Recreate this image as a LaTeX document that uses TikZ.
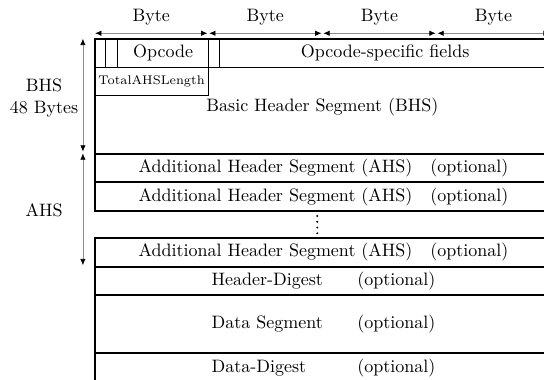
\documentclass[tikz,border=0pt]{standalone}
\usepackage{tikz}
\usetikzlibrary{arrows.meta, positioning, calc}

\begin{document}
\begin{tikzpicture}[
    seg/.style={rectangle, draw, very thick, minimum width=8.92cm, minimum height=0.56cm, inner sep=0pt, anchor=north west},
    cell/.style={rectangle, draw, thin, minimum height=0.56cm, inner sep=0pt, anchor=north west},
    span/.style={{Latex[black, length=3.5pt, width=3pt]}-{Latex[black, length=3.5pt, width=3pt]}, draw=black!45, shorten <=0.5pt, shorten >=0.5pt}
]
\useasboundingbox (0,0) rectangle (10.63,-7.41);
\clip (0,0) rectangle (10.63,-7.41);

% byte ruler
\coordinate (b0) at (1.84,-0.65);
\coordinate (b1) at (4.07,-0.65);
\coordinate (b2) at (6.30,-0.65);
\coordinate (b3) at (8.53,-0.65);
\coordinate (b4) at (10.76,-0.65);
\node (byteA) at (2.955,-0.33) {Byte};
\node (byteB) at (5.185,-0.33) {Byte};
\node (byteC) at (7.415,-0.33) {Byte};
\node (byteD) at (9.645,-0.33) {Byte};
\draw[span] (b0) -- (b1);
\draw[span] (b1) -- (b2);
\draw[span] (b2) -- (b3);
\draw[span] (b3) -- (b4);

% basic header segment
\node[seg, minimum height=2.24cm] (bhs) at (1.84,-0.74) {};
\node (bhstext) at (6.30,-2.09) {Basic Header Segment (BHS)};
\node[cell, minimum width=0.21cm] (flagA) at (1.84,-0.74) {};
\node[cell, minimum width=0.24cm] (flagB) at (2.05,-0.74) {};
\node[cell, minimum width=1.78cm] (opcode) at (2.29,-0.74) {Opcode};
\node[cell, minimum width=0.21cm] (flagC) at (4.07,-0.74) {};
\node[cell, minimum width=6.48cm] (fields) at (4.28,-0.74) {Opcode-specific fields};
\node[cell, minimum width=2.23cm, font=\scriptsize] (totlen) at (1.84,-1.30) {TotalAHSLength};

% additional header segments
\node[seg] (ahsA) at (1.84,-2.98) {Additional Header Segment (AHS)\quad(optional)};
\node[seg] (ahsB) at (1.84,-3.54) {Additional Header Segment (AHS)\quad(optional)};
\foreach \k in {0,...,3}
    \fill (6.20,-4.22-0.113*\k) circle (0.6pt);
\node[seg] (ahsN) at (1.84,-4.63) {Additional Header Segment (AHS)\quad(optional)};

% digests and data
\node[seg] (hdigest) at (1.84,-5.19) {\makebox[81pt][l]{Header-Digest}(optional)};
\node[seg, minimum height=1.12cm] (data) at (1.84,-5.75) {\makebox[81pt][l]{Data Segment}(optional)};
\node[seg, minimum height=0.6cm] (ddigest) at (1.84,-6.87) {\makebox[81pt][l]{Data-Digest}(optional)};

% left side
\coordinate (s0) at (1.62,-0.74);
\coordinate (s1) at (1.62,-2.98);
\coordinate (s2) at (1.62,-5.20);
\draw[span] (s0) -- (s1);
\draw[span] (s1) -- (s2);
\node[align=center] (bhsname) at (0.86,-1.91) {BHS\\48 Bytes};
\node (ahsname) at (0.86,-4.11) {AHS};

\end{tikzpicture}
\end{document}
